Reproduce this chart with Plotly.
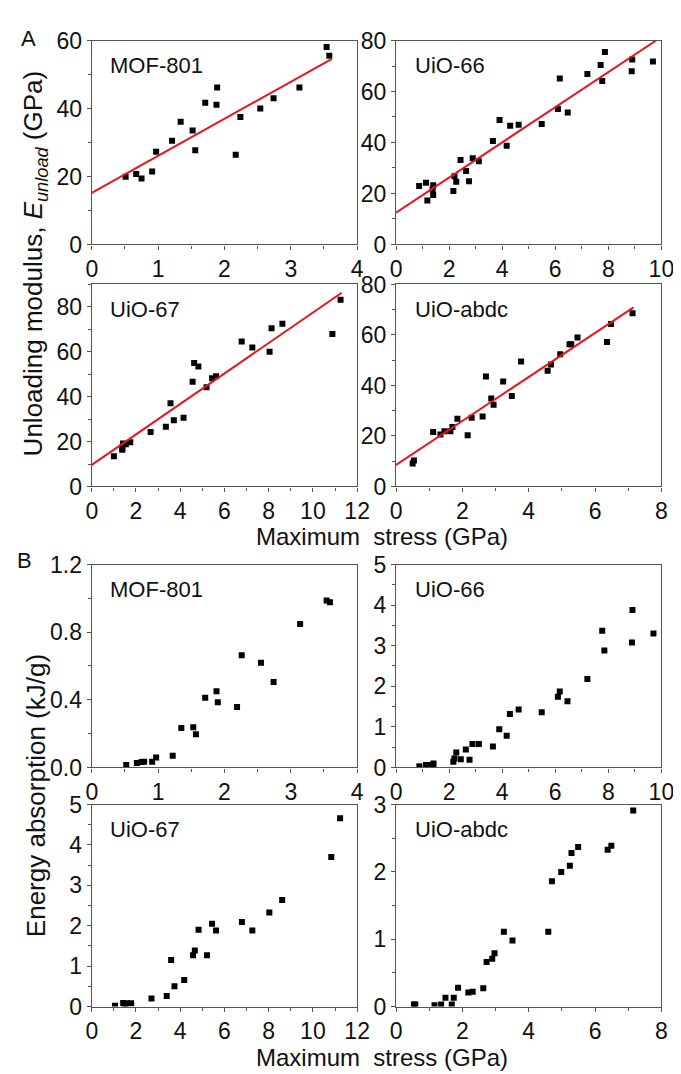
import plotly.graph_objects as go

W, H = 681, 1074
FONT = "Arial, 'Liberation Sans', sans-serif"

# ---- panel A: unloading modulus vs maximum stress ----
mof801_x = [0.51, 0.67, 0.75, 0.91, 0.97, 1.21, 1.34, 1.52, 1.56, 1.71, 1.88, 1.89, 2.17, 2.24, 2.54, 2.74, 3.13, 3.54, 3.58]
mof801_e = [19.9, 20.7, 19.4, 21.5, 27.3, 30.5, 36.1, 33.5, 27.7, 41.7, 41.1, 46.2, 26.4, 37.5, 40.0, 43.0, 46.2, 58.1, 55.5]
mof801_fit_x = [0, 3.62]
mof801_fit_e = [15.2, 54.6]

uio66_x = [0.87, 1.13, 1.18, 1.40, 1.38, 1.40, 2.16, 2.20, 2.27, 2.43, 2.64, 2.75, 2.89, 3.12, 3.65, 3.90, 4.17, 4.30, 4.62,
           5.49, 6.10, 6.17, 6.47, 7.21, 7.71, 7.77, 7.87, 8.88, 8.90, 9.68]
uio66_e = [22.9, 24.2, 17.2, 23.2, 21.7, 19.4, 21.0, 26.8, 24.6, 33.1, 28.8, 24.8, 33.8, 32.6, 40.6, 48.8, 38.7, 46.6, 47.0,
           47.3, 53.1, 65.1, 51.8, 66.9, 70.4, 64.1, 75.5, 67.9, 72.6, 71.8]
uio66_fit_x = [0, 9.8]
uio66_fit_e = [12.5, 80.0]

uio67_x = [1.00, 1.38, 1.38, 1.41, 1.54, 1.74, 2.66, 3.35, 3.56, 3.71, 4.15, 4.56, 4.63, 4.82, 5.19, 5.44, 5.62,
           6.78, 7.26, 8.04, 8.13, 8.62, 10.88, 11.25]
uio67_e = [13.4, 17.0, 16.3, 19.1, 18.8, 19.7, 24.3, 26.6, 37.1, 29.5, 30.6, 46.6, 55.0, 53.4, 44.2, 48.2, 49.1,
           64.6, 61.9, 60.0, 70.5, 72.5, 67.9, 83.2]
uio67_fit_x = [0, 11.3]
uio67_fit_e = [9.6, 86.3]

abdc_x = [0.50, 0.54, 1.12, 1.34, 1.46, 1.64, 1.70, 1.85, 2.16, 2.28, 2.61, 2.71, 2.87, 2.94, 3.23, 3.49, 3.77,
          4.57, 4.67, 4.95, 5.23, 5.28, 5.47, 6.36, 6.48, 7.13]
abdc_e = [9.1, 10.3, 21.6, 20.6, 21.9, 21.9, 23.5, 26.8, 20.3, 27.2, 27.7, 43.5, 34.8, 32.4, 41.6, 35.8, 49.5,
          45.8, 48.3, 52.4, 56.3, 56.3, 59.0, 57.2, 64.3, 68.6]
abdc_fit_x = [0, 7.16]
abdc_fit_e = [8.5, 70.9]

# ---- panel B: energy absorption vs maximum stress ----
mof801_bx = [0.52, 0.68, 0.75, 0.79, 0.91, 0.97, 1.22, 1.35, 1.53, 1.57, 1.71, 1.88, 1.90, 2.19, 2.26, 2.55, 2.74, 3.14, 3.54, 3.59]
mof801_w = [0.015, 0.027, 0.032, 0.034, 0.034, 0.059, 0.070, 0.234, 0.238, 0.196, 0.413, 0.451, 0.385, 0.358, 0.663,
            0.619, 0.505, 0.848, 0.987, 0.977]

uio66_bx = [0.88, 1.13, 1.21, 1.40, 1.41, 2.16, 2.20, 2.27, 2.44, 2.63, 2.77, 2.88, 3.12, 3.65, 3.89, 4.17, 4.29, 4.62,
            5.49, 6.10, 6.17, 6.46, 7.21, 7.77, 7.85, 8.89, 8.91, 9.70]
uio66_w = [0.03, 0.06, 0.06, 0.06, 0.10, 0.14, 0.22, 0.37, 0.20, 0.44, 0.19, 0.58, 0.58, 0.52, 0.94, 0.78, 1.32, 1.43,
           1.36, 1.74, 1.87, 1.63, 2.18, 3.37, 2.88, 3.08, 3.88, 3.30]

uio67_bx = [1.05, 1.42, 1.50, 1.59, 1.78, 2.70, 3.39, 3.59, 3.74, 4.18, 4.58, 4.66, 4.83, 5.21, 5.44, 5.62, 6.79, 7.26,
            8.03, 8.61, 10.83, 11.23]
uio67_w = [0.02, 0.09, 0.06, 0.08, 0.08, 0.20, 0.26, 1.15, 0.50, 0.66, 1.27, 1.39, 1.90, 1.27, 2.05, 1.88, 2.09, 1.88,
           2.33, 2.64, 3.70, 4.66]

abdc_bx = [0.54, 0.58, 1.16, 1.36, 1.49, 1.68, 1.74, 1.87, 2.18, 2.31, 2.63, 2.73, 2.90, 2.97, 3.25, 3.51, 4.59, 4.70,
           4.98, 5.24, 5.29, 5.49, 6.38, 6.49, 7.15]
abdc_w = [0.03, 0.03, 0.02, 0.03, 0.13, 0.03, 0.13, 0.28, 0.21, 0.22, 0.27, 0.66, 0.71, 0.79, 1.11, 0.98, 1.11, 1.86,
          2.00, 2.09, 2.28, 2.37, 2.33, 2.39, 2.91]

# panel boxes in pixels: left, right, top, bottom
LEFT_COL = (80, 353)
RIGHT_COL = (393, 666)
panels = [
    dict(name="MOF-801", x=mof801_x, y=mof801_e, fx=mof801_fit_x, fy=mof801_fit_e, col=LEFT_COL, rows=(20, 229),
         xr=[0, 4], xd=1, yr=[0, 60], yd=20, fmt=""),
    dict(name="UiO-66", x=uio66_x, y=uio66_e, fx=uio66_fit_x, fy=uio66_fit_e, col=RIGHT_COL, rows=(20, 229),
         xr=[0, 10], xd=2, yr=[0, 80], yd=20, fmt=""),
    dict(name="UiO-67", x=uio67_x, y=uio67_e, fx=uio67_fit_x, fy=uio67_fit_e, col=LEFT_COL, rows=(270, 477),
         xr=[0, 12], xd=2, yr=[0, 90], yd=20, fmt=""),
    dict(name="UiO-abdc", x=abdc_x, y=abdc_e, fx=abdc_fit_x, fy=abdc_fit_e, col=RIGHT_COL, rows=(270, 477),
         xr=[0, 8], xd=2, yr=[0, 80], yd=20, fmt=""),
    dict(name="MOF-801", x=mof801_bx, y=mof801_w, col=LEFT_COL, rows=(557, 765),
         xr=[0, 4], xd=1, yr=[0, 1.2], yd=0.4, fmt=".1f"),
    dict(name="UiO-66", x=uio66_bx, y=uio66_w, col=RIGHT_COL, rows=(557, 765),
         xr=[0, 10], xd=2, yr=[0, 5], yd=1, fmt=""),
    dict(name="UiO-67", x=uio67_bx, y=uio67_w, col=LEFT_COL, rows=(803, 1010),
         xr=[0, 12], xd=2, yr=[0, 5], yd=1, fmt=""),
    dict(name="UiO-abdc", x=abdc_bx, y=abdc_w, col=RIGHT_COL, rows=(803, 1010),
         xr=[0, 8], xd=2, yr=[0, 3], yd=1, fmt=""),
]

fig = go.Figure()
annotations = []
axis_style = dict(showline=True, mirror=True, linecolor="#555", linewidth=1.2, ticks="outside", ticklen=4,
                  tickcolor="#555", showgrid=False, zeroline=False, tickfont=dict(family=FONT, size=23, color="#111"))

for i, p in enumerate(panels, start=1):
    sx = "" if i == 1 else str(i)
    fig.add_trace(go.Scatter(x=p["x"], y=p["y"], mode="markers", xaxis=f"x{sx}", yaxis=f"y{sx}",
                             marker=dict(symbol="square", size=6, color="black"), showlegend=False))
    if "fx" in p:
        fig.add_trace(go.Scatter(x=p["fx"], y=p["fy"], mode="lines", xaxis=f"x{sx}", yaxis=f"y{sx}",
                                 line=dict(color="#e8141c", width=2), showlegend=False))
    l, r = p["col"]
    t, b = p["rows"]
    fig.layout[f"xaxis{sx}"] = dict(axis_style, domain=[l / W, r / W], range=p["xr"], dtick=p["xd"], tick0=0,
                                    anchor=f"y{sx}", minor=dict(dtick=p["xd"] / 2, ticks="outside", ticklen=3,
                                                                tickcolor="#555"))
    fig.layout[f"yaxis{sx}"] = dict(axis_style, domain=[1 - b / H, 1 - t / H], range=p["yr"], dtick=p["yd"], tick0=0,
                                    tickformat=p["fmt"], anchor=f"x{sx}",
                                    minor=dict(dtick=p["yd"] / 2, ticks="outside", ticklen=3, tickcolor="#555"))
    annotations.append(dict(text=p["name"], x=(l + 17) / W, y=1 - (t + 26) / H, xref="paper", yref="paper",
                            xanchor="left", yanchor="middle", showarrow=False,
                            font=dict(family=FONT, size=22, color="#111")))

title_font = dict(family=FONT, size=24, color="#111")
annotations += [
    dict(text="A", x=15 / W, y=1 - 18 / H, font=dict(family=FONT, size=22, color="#111")),
    dict(text="B", x=11 / W, y=1 - 553 / H, font=dict(family=FONT, size=22, color="#111")),
    dict(text="Maximum\u00a0 stress (GPa)", x=379 / W, y=1 - 528 / H, font=title_font),
    dict(text="Maximum\u00a0 stress (GPa)", x=379 / W, y=1 - 1062 / H, font=title_font),
    dict(text="Unloading modulus, <i>E</i><sub><i>unload</i></sub> (GPa)", x=22 / W, y=1 - 248 / H,
         textangle=-90, font=dict(family=FONT, size=26, color="#111")),
    dict(text="Energy absorption (kJ/g)", x=22 / W, y=1 - 794 / H, textangle=-90,
         font=dict(family=FONT, size=26, color="#111")),
]
for a in annotations[-6:]:
    a.update(xref="paper", yref="paper", xanchor="center", yanchor="middle", showarrow=False)

fig.update_layout(width=W, height=H, margin=dict(l=0, r=0, t=0, b=0), plot_bgcolor="white",
                  paper_bgcolor="white", annotations=annotations, font=dict(family=FONT))
fig.write_html("out.html")
